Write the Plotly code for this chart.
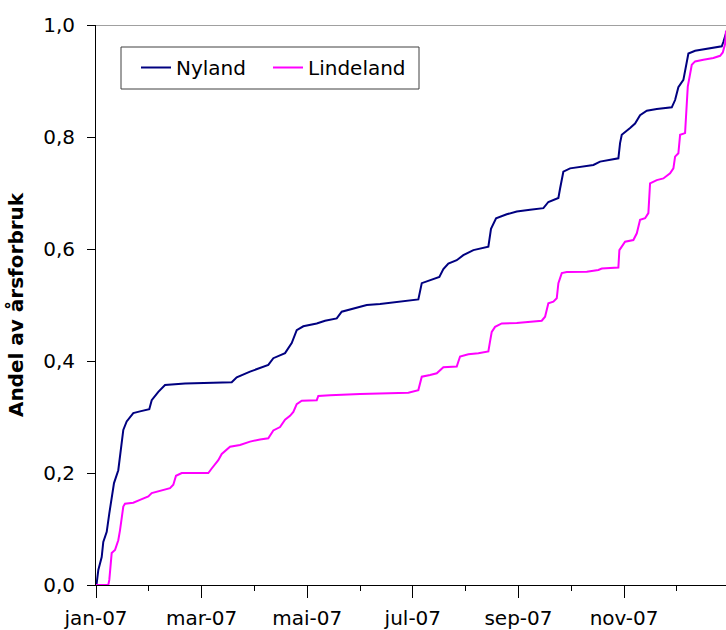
import plotly.graph_objects as go

# x positions in months since 1 Jan 2007 (0 = jan, 1 = feb, ...), values = share of annual use
nyland_month = [0, 0.013, 0.044, 0.108, 0.138, 0.203, 0.252, 0.297, 0.341, 0.422, 0.473, 0.517,
                0.581, 0.706, 0.833, 1.009, 1.055, 1.18, 1.307, 1.686, 2.57, 2.665, 2.917, 3.263,
                3.358, 3.58, 3.706, 3.801, 3.926, 4.18, 4.337, 4.559, 4.653, 4.873, 5.127, 5.379,
                5.758, 6.104, 6.169, 6.326, 6.502, 6.578, 6.672, 6.831, 6.956, 7.146, 7.43, 7.48,
                7.576, 7.778, 7.968, 8.22, 8.472, 8.566, 8.756, 8.788, 8.85, 8.977, 9.229, 9.419,
                9.545, 9.892, 9.924, 9.956, 10.114, 10.208, 10.303, 10.43, 10.619, 10.903, 10.966,
                11.028, 11.123, 11.188, 11.218, 11.345, 11.597, 11.786, 11.85, 11.881, 11.913, 11.93]
nyland_share = [0, 0.003, 0.027, 0.05, 0.077, 0.095, 0.128, 0.158, 0.182, 0.205, 0.247, 0.277,
                0.292, 0.307, 0.31, 0.314, 0.33, 0.345, 0.357, 0.36, 0.362, 0.371, 0.381, 0.393,
                0.405, 0.414, 0.432, 0.455, 0.462, 0.467, 0.472, 0.476, 0.488, 0.494, 0.5, 0.502,
                0.506, 0.51, 0.539, 0.544, 0.55, 0.564, 0.574, 0.58, 0.589, 0.598, 0.604, 0.636,
                0.655, 0.662, 0.667, 0.67, 0.673, 0.684, 0.691, 0.708, 0.738, 0.744, 0.747, 0.75,
                0.756, 0.762, 0.789, 0.804, 0.816, 0.824, 0.839, 0.847, 0.85, 0.853, 0.866,
                0.889, 0.902, 0.931, 0.949, 0.954, 0.958, 0.96, 0.962, 0.97, 0.982, 0.985]

lindeland_month = [0, 0.233, 0.252, 0.297, 0.36, 0.422, 0.455, 0.487, 0.517, 0.549, 0.706, 0.833,
                   0.991, 1.055, 1.212, 1.402, 1.464, 1.515, 1.623, 2.127, 2.191, 2.316, 2.381,
                   2.538, 2.727, 2.917, 3.106, 3.263, 3.358, 3.485, 3.58, 3.674, 3.737, 3.801,
                   3.896, 4.18, 4.21, 4.432, 5.0, 5.506, 5.915, 6.104, 6.169, 6.326, 6.453, 6.578,
                   6.831, 6.894, 7.051, 7.241, 7.43, 7.462, 7.494, 7.557, 7.684, 7.968, 8.157,
                   8.441, 8.504, 8.566, 8.661, 8.725, 8.756, 8.82, 8.915, 9.294, 9.513, 9.578,
                   9.892, 9.911, 10.019, 10.176, 10.241, 10.303, 10.398, 10.46, 10.492, 10.619,
                   10.744, 10.871, 10.934, 10.966, 11.028, 11.061, 11.155, 11.188, 11.206, 11.282,
                   11.345, 11.502, 11.691, 11.818, 11.869, 11.913, 11.93]
lindeland_share = [0, 0, 0.009, 0.057, 0.0625, 0.08, 0.098, 0.116, 0.14, 0.145, 0.147, 0.152,
                   0.158, 0.164, 0.168, 0.173, 0.179, 0.195, 0.2, 0.2, 0.208, 0.223, 0.234,
                   0.247, 0.25, 0.256, 0.26, 0.262, 0.276, 0.282, 0.295, 0.302, 0.309, 0.323,
                   0.329, 0.33, 0.3375, 0.339, 0.341, 0.342, 0.3435, 0.348, 0.372, 0.375, 0.378,
                   0.389, 0.39, 0.408, 0.412, 0.414, 0.417, 0.435, 0.452, 0.461, 0.467, 0.468,
                   0.47, 0.472, 0.479, 0.503, 0.506, 0.512, 0.539, 0.557, 0.559, 0.5595, 0.5625,
                   0.565, 0.567, 0.598, 0.613, 0.616, 0.628, 0.652, 0.655, 0.664, 0.717, 0.723,
                   0.726, 0.735, 0.744, 0.765, 0.771, 0.804, 0.807, 0.854, 0.89, 0.929, 0.935,
                   0.938, 0.941, 0.945, 0.951, 0.966, 0.99]

x_tick_vals = [0, 2, 4, 6, 8, 10]
x_tick_text = ["jan-07", "mar-07", "mai-07", "jul-07", "sep-07", "nov-07"]
x_minor_vals = [1, 3, 5, 7, 9, 11]
y_tick_vals = [0, 0.2, 0.4, 0.6, 0.8, 1.0]
y_tick_text = ["0,0", "0,2", "0,4", "0,6", "0,8", "1,0"]

FONT = "DejaVu Sans"

W, H = 726, 630
PLOT_L, PLOT_T, PLOT_R, PLOT_B = 96, 25, 726, 585  # plot area in window pixels
PW, PH = PLOT_R - PLOT_L, PLOT_B - PLOT_T


def px_x(x):
    return (x - PLOT_L) / PW


def px_y(y):
    return (PLOT_B - y) / PH


fig = go.Figure()
fig.add_trace(go.Scatter(x=nyland_month, y=nyland_share, mode="lines", name="Nyland",
                         line=dict(color="#000080", width=2), legend="legend"))
fig.add_trace(go.Scatter(x=lindeland_month, y=lindeland_share, mode="lines", name="Lindeland",
                         line=dict(color="#FF00FF", width=2), legend="legend2"))

# top border of plot area
fig.add_shape(type="line", xref="paper", yref="y", x0=0, x1=1, y0=1, y1=1,
              line=dict(color="#A0A0A0", width=2))
# legend frame
fig.add_shape(type="rect", xref="paper", yref="paper",
              x0=px_x(121), x1=px_x(419), y0=px_y(89), y1=px_y(47),
              line=dict(color="#404040", width=1), fillcolor="white", layer="above")

legend_common = dict(orientation="h", xanchor="left", yanchor="top",
                     borderwidth=0, bgcolor="rgba(0,0,0,0)",
                     font=dict(family=FONT, size=20, color="black"))

fig.update_layout(
    width=W, height=H,
    margin=dict(l=PLOT_L, r=W - PLOT_R, t=PLOT_T, b=H - PLOT_B, autoexpand=False),
    paper_bgcolor="white", plot_bgcolor="white",
    font=dict(family=FONT, size=20, color="black"),
    showlegend=True,
    legend=dict(x=px_x(136), y=px_y(48), **legend_common),
    legend2=dict(x=px_x(268), y=px_y(48), **legend_common),
    xaxis=dict(range=[0, 11.93], showgrid=False, zeroline=False, automargin=False,
               showline=True, linecolor="black", linewidth=1,
               tickmode="array", tickvals=x_tick_vals, ticktext=x_tick_text,
               ticks="outside", ticklen=12, tickcolor="black", tickwidth=1,
               ticklabelstandoff=3,
               minor=dict(tickmode="array", tickvals=x_minor_vals, ticks="outside",
                          ticklen=5, tickcolor="black", tickwidth=1, showgrid=False),
               tickfont=dict(family=FONT, size=20, color="black")),
    yaxis=dict(range=[0, 1], showgrid=False, zeroline=False, automargin=False,
               showline=True, linecolor="black", linewidth=1,
               tickmode="array", tickvals=y_tick_vals, ticktext=y_tick_text,
               ticks="outside", ticklen=8, tickcolor="black", tickwidth=1,
               ticklabelstandoff=8,
               tickfont=dict(family=FONT, size=20, color="black"),
               title=dict(text="<b>Andel av årsforbruk</b>", standoff=14,
                          font=dict(family=FONT, size=20, color="black"))),
)

fig.write_html(
    "out.html",
    config={"displayModeBar": False},
    post_script="document.body.style.margin='0';document.body.style.overflow='hidden';",
)
